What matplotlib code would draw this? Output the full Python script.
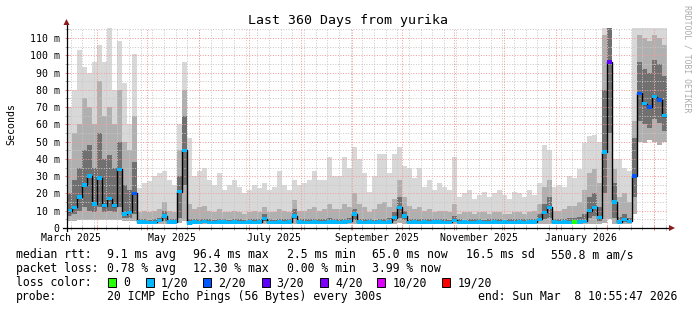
import numpy as np
import matplotlib
matplotlib.use('Agg')
import matplotlib.pyplot as plt
from matplotlib.patches import Rectangle, Polygon
from matplotlib.lines import Line2D
from datetime import datetime, timedelta

# ---------------- data (3-day bins, 360 days) ----------------
BIN_DAYS = 3
END = datetime(2026, 3, 8, 10, 55, 47)
SPAN_DAYS = 360

median_ms = [10, 12, 18, 25, 30, 14, 29, 13, 17, 13, 34, 8, 9, 20,
             3.5, 3.4, 3.3, 3.3, 4.5, 7, 3.5, 3.4, 21, 45,
             3.0, 3.6, 3.3, 3.8, 3.3, 3.2, 3.5, 3.4, 3.2, 3.6, 3.3, 3.2, 3.4, 3.3, 3.5, 5.5, 3.3, 3.2, 3.4, 3.3, 3.6, 7.0,
             3.4, 3.2, 3.3, 3.5, 3.3, 3.2, 3.4, 3.6, 3.3, 3.4, 3.8, 8.0,
             3.5, 3.3, 3.4, 3.2, 3.5, 3.3, 3.6, 6, 12, 7,
             3.3, 3.4, 3.2, 3.5, 3.3, 3.4, 3.6, 3.3, 3.2, 4.5, 3.3, 3.4, 3.2, 3.3, 3.5, 3.3, 3.2, 3.4, 3.3, 3.5, 3.3, 3.2, 3.4, 3.3, 3.6, 3.4, 5.0,
             9, 12,
             3.4, 3.3, 3.5, 3.3, 3.6, 3.4, 3.8,
             10, 12, 6, 44, 96, 15,
             3.6, 5.0, 3.8, 30,
             78, 72, 70, 76, 74, 65]

loss_count = [1, 1, 1, 1, 1, 1, 1, 1, 1, 1,
              1, 1, 1, 2, 1, 1, 1, 1, 1, 1,
              1, 1, 1, 1, 1, 1, 1, 1, 1, 1,
              1, 1, 1, 1, 1, 1, 1, 1, 1, 1,
              1, 1, 1, 1, 1, 1, 1, 1, 1, 1,
              1, 1, 1, 1, 1, 1, 1, 1, 1, 1,
              1, 1, 1, 1, 1, 1, 1, 1, 1, 1,
              1, 1, 1, 1, 1, 1, 1, 1, 1, 1,
              1, 1, 1, 1, 1, 1, 1, 1, 1, 1,
              1, 1, 1, 1, 1, 1, 1, 1, 1, 1,
              1, 0, 1, 1, 1, 1, 1, 1, 3, 1,
              1, 1, 1, 2, 2, 1, 2, 1, 2, 1]

smoke_min = [4, 4, 4.5, 4.5, 4.5, 4.5, 4.5, 4.5, 4.5, 4.5,
             4.5, 4, 4, 4, 2.5, 2.5, 2.5, 2.5, 2.5, 2.5,
             2.5, 2.5, 3, 4, 2.5, 2.5, 2.5, 2.5, 2.5, 2.5,
             2.5, 2.5, 2.5, 2.5, 2.5, 2.5, 2.5, 2.5, 2.5, 2.5,
             2.5, 2.5, 2.5, 2.5, 2.5, 2.5, 2.5, 2.5, 2.5, 2.5,
             2.5, 2.5, 2.5, 2.5, 2.5, 2.5, 2.5, 2.5, 2.5, 2.5,
             2.5, 2.5, 2.5, 2.5, 2.5, 2.5, 3, 2.5, 2.5, 2.5,
             2.5, 2.5, 2.5, 2.5, 2.5, 2.5, 2.5, 2.5, 2.5, 2.5,
             2.5, 2.5, 2.5, 2.5, 2.5, 2.5, 2.5, 2.5, 2.5, 2.5,
             2.5, 2.5, 2.5, 2.5, 2.5, 2.5, 2.5, 2.5, 2.5, 2.5,
             2.5, 2.5, 2.5, 2.5, 2.5, 2.5, 2.5, 3, 5, 2.5,
             2.5, 2.5, 2.5, 8, 50, 49, 51, 50, 48, 50]

smoke_p25 = [7, 8, 10, 12, 10, 9, 12, 9, 10, 9, 12, 6, 6, 8,
             3.0, 3.0, 2.9, 2.9, 3.3, 4.0, 3.1, 3.0, 6, 25,
             2.9, 3.1, 3.0, 3.2, 3.0, 2.9, 3.1, 3.0, 2.9, 3.2, 3.0, 2.9, 3.0, 3.0, 3.1, 4.0, 3.0, 2.9, 3.0, 3.0, 3.2, 5.0,
             3.0, 2.9, 3.0, 3.1, 3.0, 2.9, 3.0, 3.2, 3.0, 3.0, 3.3, 4.5,
             3.1, 3.0, 3.0, 2.9, 3.1, 3.0, 3.2, 3.8, 6.0, 4.5,
             3.0, 3.0, 2.9, 3.1, 3.0, 3.0, 3.2, 3.0, 2.9, 3.6, 3.0, 3.0, 2.9, 3.0, 3.1, 3.0, 2.9, 3.0, 3.0, 3.1, 3.0, 2.9, 3.0, 3.0, 3.2, 3.0, 3.8,
             5.0, 6.0,
             3.0, 3.0, 3.1, 3.0, 3.2, 3.0, 3.3,
             6, 7, 4, 20, 55, 6,
             3.1, 3.6, 3.2, 18,
             62, 60, 58, 63, 61, 56]

smoke_p75 = [20, 28, 35, 45, 48, 35, 55, 40, 42, 35, 50, 25, 22, 38,
             5.0, 5.2, 4.8, 5.0, 6.0, 10, 5.0, 5.0, 30, 65,
             5.5, 5.0, 5.2, 5.5, 5.0, 4.8, 5.2, 5.0, 4.8, 5.3, 5.0, 4.8, 5.0, 5.2, 5.0, 8.0, 5.0, 4.8, 5.2, 5.0, 5.5, 11,
             5.2, 5.0, 5.3, 5.5, 5.0, 5.0, 5.8, 5.2, 5.0, 5.5, 6.0, 11,
             5.5, 5.2, 5.0, 4.8, 5.5, 5.3, 5.6, 9.0, 18, 10,
             5.5, 5.2, 5.0, 5.0, 5.2, 5.0, 5.3, 5.0, 4.8, 7.0, 5.0, 4.9, 5.0, 5.1, 5.0, 4.8, 5.0, 5.2, 5.0, 4.9, 5.0, 5.0, 5.1, 5.0, 5.3, 5.5, 8.0,
             14, 18,
             5.0, 5.2, 5.5, 5.8, 6.0, 6.5, 8.0,
             18, 20, 12, 80, 116, 26,
             6.5, 8.0, 6.0, 52,
             96, 92, 90, 97, 95, 88]

smoke_p90 = [40, 55, 60, 75, 70, 60, 85, 65, 70, 60, 80, 50, 45, 65,
             9, 10, 9, 10, 11, 15, 10, 9, 45, 80,
             14, 11, 12, 13, 10, 9, 11, 9, 9, 10, 9, 8, 9, 10, 9, 12, 9, 9, 11, 10, 9, 16,
             10, 10, 11, 12, 10, 11, 14, 11, 11, 14, 12, 20,
             14, 12, 9, 11, 14, 15, 12, 17, 28, 18,
             13, 11, 12, 10, 11, 9, 10, 10, 9, 14, 8, 9, 9, 8, 9, 9, 8, 9, 9, 8, 8, 9, 9, 8, 9, 10, 14,
             24, 28,
             10, 10, 11, 13, 13, 15, 22,
             32, 34, 26, 112, 116, 34,
             18, 20, 15, 62,
             112, 110, 108, 112, 110, 106]

smoke_max = [70, 80, 103, 93, 90, 96, 106, 96, 116, 80, 108, 84, 60, 101,
             23, 26, 27, 30, 32, 33, 28, 25, 60, 96,
             52, 30, 33, 35, 28, 25, 32, 22, 25, 28, 24, 20, 22, 25, 23, 26, 22, 24, 33, 25, 22, 28,
             25, 26, 28, 33, 28, 28, 41, 30, 30, 41, 35, 47,
             40, 32, 21, 30, 43, 43, 32, 43, 47, 36,
             35, 29, 35, 24, 28, 22, 26, 24, 22, 41, 18, 20, 22, 17, 19, 21, 18, 20, 22, 19, 17, 21, 20, 18, 22, 19, 26,
             48, 45,
             24, 25, 24, 30, 29, 34, 49,
             53, 54, 50, 116, 116, 40,
             40, 35, 33, 116,
             116, 116, 116, 116, 116, 116]

y_ticks = [0, 10, 20, 30, 40, 50, 60, 70, 80, 90, 100, 110]
y_tick_labels = ['0', '10 m', '20 m', '30 m', '40 m', '50 m', '60 m', '70 m',
                 '80 m', '90 m', '100 m', '110 m']
x_label_months = [(2025, 3), (2025, 5), (2025, 7), (2025, 9), (2025, 11), (2026, 1)]
x_labels = ['March 2025', 'May 2025', 'July 2025', 'September 2025',
            'November 2025', 'January 2026']

loss_keys = [0, 1, 2, 3, 4, 10, 19]
loss_labels = ['0', '1/20', '2/20', '3/20', '4/20', '10/20', '19/20']
loss_colors = ['#26ff00', '#00b8ff', '#0059ff', '#5e00ff', '#7e00ff', '#dd00ff', '#ff0000']

stats_rtt = ['9.1 ms avg', '96.4 ms max', '2.5 ms min', '65.0 ms now', '16.5 ms sd', '550.8 m am/s']
stats_loss = ['0.78 % avg', '12.30 % max', '0.00 % min', '3.99 % now']
probe_text = '20 ICMP Echo Pings (56 Bytes) every 300s'
end_text = 'end: Sun Mar  8 10:55:47 2026'
title = 'Last 360 Days from yurika'

# ---------------- layout ----------------
W, H = 697, 310
MONO = 'DejaVu Sans Mono'
fig = plt.figure(figsize=(W / 100, H / 100), dpi=100)
fig.patch.set_facecolor('white')

def fx(px):
    return px / W

def fy(py):
    return 1 - py / H

L, R, T, B = 66.5, 666.5, 28.0, 228.0
PX_PER_10 = 17.27
YMAX = (B - T) / PX_PER_10 * 10
ax = fig.add_axes([fx(L), fy(B), (R - L) / W, (B - T) / H])
ax.set_facecolor('white')
ax.set_xlim(0, SPAN_DAYS)
ax.set_ylim(0, YMAX)
for s in ax.spines.values():
    s.set_visible(False)

START = END - timedelta(days=SPAN_DAYS)

def day_of(dt):
    return (dt - START).total_seconds() / 86400.0

n = len(median_ms)
edges = np.arange(n + 1) * BIN_DAYS

def ext(a):
    a = np.asarray(a, dtype=float)
    return np.append(a, a[-1])

# smoke
ax.fill_between(edges, ext(smoke_min), ext(smoke_max), step='post', color='#d8d8d8', lw=0, zorder=1)
ax.fill_between(edges, ext(smoke_min), ext(smoke_p90), step='post', color='#b0b0b0', lw=0, zorder=1.1)
ax.fill_between(edges, ext(smoke_p25), ext(smoke_p75), step='post', color='#707070', lw=0, zorder=1.2)

# grid (dotted)
grid_kw = dict(lw=0.72, linestyle=(0, (1, 1.6)), zorder=2)
minor_y = np.arange(5, YMAX, 10)
for v in minor_y:
    ax.axhline(v, color='#c8c8c8', **grid_kw)
for v in y_ticks[1:]:
    ax.axhline(v, color='#f29a9a', **grid_kw)

week_days = []
d = datetime(2025, 3, 16)
while d < END:
    if d > START:
        week_days.append(day_of(d))
    d += timedelta(days=7)
month_days = []
for y, m in [(2025, mm) for mm in range(4, 13)] + [(2026, mm) for mm in range(1, 4)]:
    dd = datetime(y, m, 1)
    if START < dd < END:
        month_days.append(day_of(dd))
for v in week_days:
    ax.axvline(v, color='#c8c8c8', **grid_kw)
for v in month_days:
    ax.axvline(v, color='#f29a9a', **grid_kw)

# median: black connecting line + loss coloured boxes
ax.step(edges, ext(median_ms), where='post', color='black', lw=1.0, zorder=3)

def loss_color(c):
    col = loss_colors[0]
    for k, cc in zip(loss_keys, loss_colors):
        if c >= k:
            col = cc
    return col

box_h = 2.0
ax.bar(edges[:-1], [box_h] * n, bottom=np.asarray(median_ms) - box_h / 2, width=BIN_DAYS,
       align='edge', color=[loss_color(c) for c in loss_count], lw=0, zorder=4)

# ticks & labels
ax.set_yticks(y_ticks)
ax.set_yticklabels(y_tick_labels, family=MONO, fontsize=7.1)
ax.tick_params(axis='y', length=0, pad=5.0)
label_pos = [day_of(datetime(y, m, 1) + timedelta(days=15)) for y, m in x_label_months]
ax.set_xticks(label_pos)
ax.set_xticklabels(x_labels, family=MONO, fontsize=7.1)
ax.tick_params(axis='x', length=0, pad=3.8)

# small axis tick marks
ax.plot(week_days, np.zeros(len(week_days)), ls='none', marker='|', ms=3.5, mew=0.7, color='#b0b0b0', clip_on=False, zorder=5)
ax.plot(month_days, np.zeros(len(month_days)), ls='none', marker='|', ms=3.5, mew=0.7, color='#f08080', clip_on=False, zorder=5)
ax.plot(np.zeros(len(minor_y)), minor_y, ls='none', marker='_', ms=3.5, mew=0.7, color='#b0b0b0', clip_on=False, zorder=5)
ax.plot(np.zeros(len(y_ticks) - 1), y_ticks[1:], ls='none', marker='_', ms=3.5, mew=0.7, color='#f08080', clip_on=False, zorder=5)

# axes lines and arrows
fig.add_artist(Line2D([fx(63), fx(670)], [fy(B), fy(B)], color='black', lw=0.9, zorder=6))
fig.add_artist(Line2D([fx(L), fx(L)], [fy(B + 3), fy(23)], color='black', lw=0.9, zorder=6))
fig.add_artist(Polygon([[fx(L - 3), fy(25)], [fx(L + 3), fy(25)], [fx(L), fy(19)]],
                       closed=True, color='#8b1a1a', lw=0, zorder=7))
fig.add_artist(Polygon([[fx(669), fy(B - 3)], [fx(669), fy(B + 3)], [fx(675), fy(B)]],
                       closed=True, color='#8b1a1a', lw=0, zorder=7))

# title and side texts
fig.text(fx(347.5), fy(24), title, family=MONO, fontsize=9.5, ha='center', va='baseline')
fig.text(fx(11), fy(124), 'Seconds', family=MONO, fontsize=7.1, rotation=90, ha='center', va='center')
fig.text(fx(686.5), fy(59), 'RRDTOOL / TOBI OETIKER', family=MONO, fontsize=5.9,
         rotation=270, ha='center', va='center', color='#aaaaaa')

# legend block
LF = 8.3
def lt(x, y, s):
    fig.text(fx(x), fy(y), s, family=MONO, fontsize=LF, ha='left', va='baseline')

rows_y = [258, 272, 286, 300]
lt(16, rows_y[0], 'median rtt:')
for x, s in zip([107.3, 193.3, 286.7, 372.3, 465.7, 551], stats_rtt):
    lt(x, rows_y[0], s)
lt(16, rows_y[1], 'packet loss:')
for x, s in zip([107.3, 193.3, 286.7, 372.3], stats_loss):
    lt(x, rows_y[1], s)
lt(16, rows_y[2], 'loss color:')
box_x = [108.3, 145.7, 203.3, 261.7, 320.0, 377.3, 442.3]
for bx, lab, col in zip(box_x, loss_labels, loss_colors):
    fig.add_artist(Rectangle((fx(bx), fy(286.5)), 8 / W, 9 / H, facecolor=col,
                             edgecolor='black', lw=0.7, zorder=6))
    lt(bx + 15, rows_y[2], lab)
lt(16, rows_y[3], 'probe:')
lt(107.3, rows_y[3], probe_text)
lt(478.3, rows_y[3], end_text)

fig.savefig('out.png', dpi=100, facecolor='white')
